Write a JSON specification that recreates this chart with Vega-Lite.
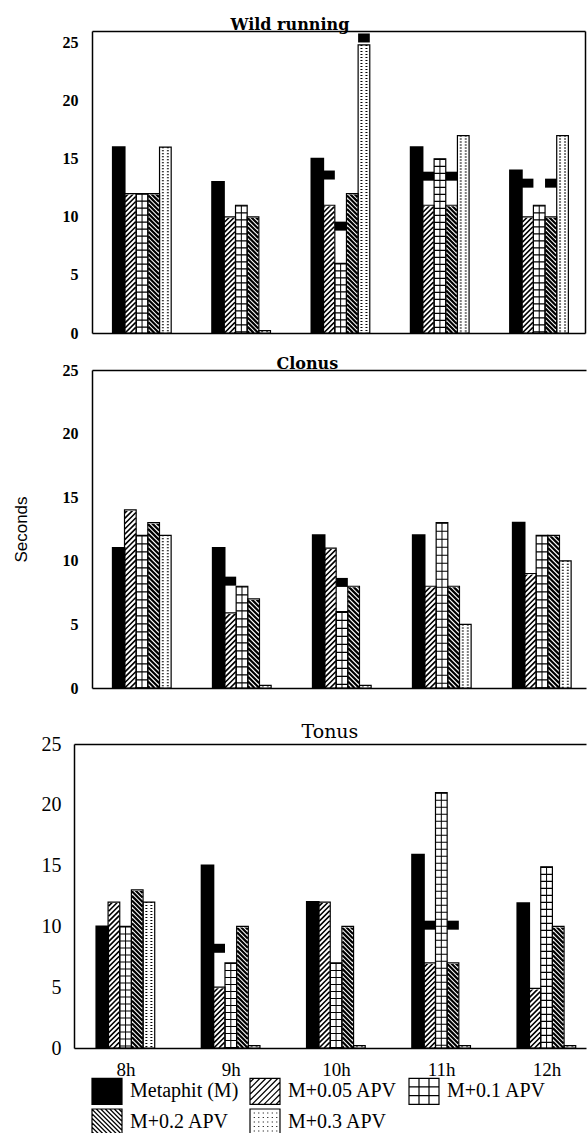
{
  "$schema": "https://vega.github.io/schema/vega-lite/v6.json",
  "usermeta": {"embedOptions": {"actions": false}},
  "background": "white",
  "padding": {"left": 12, "top": 16, "right": 0, "bottom": 0},
  "spacing": 14,
  "config": {
    "view": {"stroke": null},
    "axis": {"grid": false, "domainColor": "black", "domainWidth": 1.5, "labelColor": "black", "titleColor": "black", "zindex": 1, "labelFlush": false, "labelOverlap": false, "ticks": false}
  },
  "data": {"values": [
    {"panel":"Wild running","time":"8h","series":"Metaphit (M)","value":16},
    {"panel":"Wild running","time":"8h","series":"M+0.05 APV","value":12},
    {"panel":"Wild running","time":"8h","series":"M+0.1 APV","value":12},
    {"panel":"Wild running","time":"8h","series":"M+0.2 APV","value":12},
    {"panel":"Wild running","time":"8h","series":"M+0.3 APV","value":16},
    {"panel":"Wild running","time":"9h","series":"Metaphit (M)","value":13},
    {"panel":"Wild running","time":"9h","series":"M+0.05 APV","value":10},
    {"panel":"Wild running","time":"9h","series":"M+0.1 APV","value":11},
    {"panel":"Wild running","time":"9h","series":"M+0.2 APV","value":10},
    {"panel":"Wild running","time":"9h","series":"M+0.3 APV","value":0.2},
    {"panel":"Wild running","time":"10h","series":"Metaphit (M)","value":15},
    {"panel":"Wild running","time":"10h","series":"M+0.05 APV","value":11,"marker":13.6},
    {"panel":"Wild running","time":"10h","series":"M+0.1 APV","value":6,"marker":9.2},
    {"panel":"Wild running","time":"10h","series":"M+0.2 APV","value":12},
    {"panel":"Wild running","time":"10h","series":"M+0.3 APV","value":24.8,"marker":25.4},
    {"panel":"Wild running","time":"11h","series":"Metaphit (M)","value":16},
    {"panel":"Wild running","time":"11h","series":"M+0.05 APV","value":11,"marker":13.5},
    {"panel":"Wild running","time":"11h","series":"M+0.1 APV","value":15},
    {"panel":"Wild running","time":"11h","series":"M+0.2 APV","value":11,"marker":13.5},
    {"panel":"Wild running","time":"11h","series":"M+0.3 APV","value":17},
    {"panel":"Wild running","time":"12h","series":"Metaphit (M)","value":14},
    {"panel":"Wild running","time":"12h","series":"M+0.05 APV","value":10,"marker":12.9},
    {"panel":"Wild running","time":"12h","series":"M+0.1 APV","value":11},
    {"panel":"Wild running","time":"12h","series":"M+0.2 APV","value":10,"marker":12.9},
    {"panel":"Wild running","time":"12h","series":"M+0.3 APV","value":17},
    {"panel":"Clonus","time":"8h","series":"Metaphit (M)","value":11},
    {"panel":"Clonus","time":"8h","series":"M+0.05 APV","value":14},
    {"panel":"Clonus","time":"8h","series":"M+0.1 APV","value":12},
    {"panel":"Clonus","time":"8h","series":"M+0.2 APV","value":13},
    {"panel":"Clonus","time":"8h","series":"M+0.3 APV","value":12},
    {"panel":"Clonus","time":"9h","series":"Metaphit (M)","value":11},
    {"panel":"Clonus","time":"9h","series":"M+0.05 APV","value":5.9,"marker":8.4},
    {"panel":"Clonus","time":"9h","series":"M+0.1 APV","value":8},
    {"panel":"Clonus","time":"9h","series":"M+0.2 APV","value":7},
    {"panel":"Clonus","time":"9h","series":"M+0.3 APV","value":0.2},
    {"panel":"Clonus","time":"10h","series":"Metaphit (M)","value":12},
    {"panel":"Clonus","time":"10h","series":"M+0.05 APV","value":11},
    {"panel":"Clonus","time":"10h","series":"M+0.1 APV","value":6,"marker":8.3},
    {"panel":"Clonus","time":"10h","series":"M+0.2 APV","value":8},
    {"panel":"Clonus","time":"10h","series":"M+0.3 APV","value":0.2},
    {"panel":"Clonus","time":"11h","series":"Metaphit (M)","value":12},
    {"panel":"Clonus","time":"11h","series":"M+0.05 APV","value":8},
    {"panel":"Clonus","time":"11h","series":"M+0.1 APV","value":13},
    {"panel":"Clonus","time":"11h","series":"M+0.2 APV","value":8},
    {"panel":"Clonus","time":"11h","series":"M+0.3 APV","value":5},
    {"panel":"Clonus","time":"12h","series":"Metaphit (M)","value":13},
    {"panel":"Clonus","time":"12h","series":"M+0.05 APV","value":9},
    {"panel":"Clonus","time":"12h","series":"M+0.1 APV","value":12},
    {"panel":"Clonus","time":"12h","series":"M+0.2 APV","value":12},
    {"panel":"Clonus","time":"12h","series":"M+0.3 APV","value":10},
    {"panel":"Tonus","time":"8h","series":"Metaphit (M)","value":10},
    {"panel":"Tonus","time":"8h","series":"M+0.05 APV","value":12},
    {"panel":"Tonus","time":"8h","series":"M+0.1 APV","value":10},
    {"panel":"Tonus","time":"8h","series":"M+0.2 APV","value":13},
    {"panel":"Tonus","time":"8h","series":"M+0.3 APV","value":12},
    {"panel":"Tonus","time":"9h","series":"Metaphit (M)","value":15},
    {"panel":"Tonus","time":"9h","series":"M+0.05 APV","value":5,"marker":8.2},
    {"panel":"Tonus","time":"9h","series":"M+0.1 APV","value":7},
    {"panel":"Tonus","time":"9h","series":"M+0.2 APV","value":10},
    {"panel":"Tonus","time":"9h","series":"M+0.3 APV","value":0.2},
    {"panel":"Tonus","time":"10h","series":"Metaphit (M)","value":12},
    {"panel":"Tonus","time":"10h","series":"M+0.05 APV","value":12},
    {"panel":"Tonus","time":"10h","series":"M+0.1 APV","value":7},
    {"panel":"Tonus","time":"10h","series":"M+0.2 APV","value":10},
    {"panel":"Tonus","time":"10h","series":"M+0.3 APV","value":0.2},
    {"panel":"Tonus","time":"11h","series":"Metaphit (M)","value":15.9},
    {"panel":"Tonus","time":"11h","series":"M+0.05 APV","value":7,"marker":10.1},
    {"panel":"Tonus","time":"11h","series":"M+0.1 APV","value":21},
    {"panel":"Tonus","time":"11h","series":"M+0.2 APV","value":7,"marker":10.1},
    {"panel":"Tonus","time":"11h","series":"M+0.3 APV","value":0.2},
    {"panel":"Tonus","time":"12h","series":"Metaphit (M)","value":11.9},
    {"panel":"Tonus","time":"12h","series":"M+0.05 APV","value":4.9},
    {"panel":"Tonus","time":"12h","series":"M+0.1 APV","value":14.9},
    {"panel":"Tonus","time":"12h","series":"M+0.2 APV","value":10},
    {"panel":"Tonus","time":"12h","series":"M+0.3 APV","value":0.2}
  ]},
  "vconcat": [
    {
      "width": 493, "height": 302,
      "transform": [{"filter": "datum.panel == 'Wild running'"}],
      "encoding": {
        "x": {"field": "time", "type": "nominal", "sort": ["8h","9h","10h","11h","12h"], "scale": {"paddingInner": 0.413, "paddingOuter": 0.189, "align": 0.557}, "axis": null},
        "xOffset": {"field": "series", "type": "nominal", "sort": ["Metaphit (M)","M+0.05 APV","M+0.1 APV","M+0.2 APV","M+0.3 APV"]},
        "y": {"field": "value", "type": "quantitative", "scale": {"domain": [0, 26], "nice": false}, "axis": null}
      },
      "layer": [
        {"transform": [{"filter": "datum.series == 'M+0.05 APV'"}],
         "mark": {"type": "point", "filled": false, "stroke": "black", "strokeWidth": 1.6, "opacity": 1, "size": 4.0536,
           "shape": "M-0.3 150L5.3 144.4M4.7 150L5.3 149.4M-5.3 150l10.6-10.6m-10.6 5.6l10.6-10.6m-10.6 5.6l10.6-10.6m-10.6 5.6l10.6-10.6m-10.6 5.6l10.6-10.6m-10.6 5.6l10.6-10.6m-10.6 5.6l10.6-10.6m-10.6 5.6l10.6-10.6m-10.6 5.6l10.6-10.6m-10.6 5.6l10.6-10.6m-10.6 5.6l10.6-10.6m-10.6 5.6l10.6-10.6m-10.6 5.6l10.6-10.6m-10.6 5.6l10.6-10.6m-10.6 5.6l10.6-10.6m-10.6 5.6l10.6-10.6m-10.6 5.6l10.6-10.6m-10.6 5.6l10.6-10.6m-10.6 5.6l10.6-10.6m-10.6 5.6l10.6-10.6m-10.6 5.6l10.6-10.6m-10.6 5.6l10.6-10.6m-10.6 5.6l10.6-10.6m-10.6 5.6l10.6-10.6m-10.6 5.6l10.6-10.6m-10.6 5.6l10.6-10.6m-10.6 5.6l10.6-10.6m-10.6 5.6l10.6-10.6m-10.6 5.6l10.6-10.6m-10.6 5.6l10.6-10.6m-10.6 5.6l10.6-10.6m-10.6 5.6l10.6-10.6m-10.6 5.6l10.6-10.6m-10.6 5.6l10.6-10.6m-10.6 5.6l10.6-10.6m-10.6 5.6"},
         "encoding": {"y": {"datum": 13, "type": "quantitative", "axis": null}}},
        {"transform": [{"filter": "datum.series == 'M+0.2 APV'"}],
         "mark": {"type": "point", "filled": false, "stroke": "black", "strokeWidth": 2.2, "opacity": 1, "size": 4.0536,
           "shape": "M0.8 150L-5.3 143.9M-3.7 150L-5.3 148.4M5.3 150l-10.6-10.6m10.6 6.1l-10.6-10.6m10.6 6.1l-10.6-10.6m10.6 6.1l-10.6-10.6m10.6 6.1l-10.6-10.6m10.6 6.1l-10.6-10.6m10.6 6.1l-10.6-10.6m10.6 6.1l-10.6-10.6m10.6 6.1l-10.6-10.6m10.6 6.1l-10.6-10.6m10.6 6.1l-10.6-10.6m10.6 6.1l-10.6-10.6m10.6 6.1l-10.6-10.6m10.6 6.1l-10.6-10.6m10.6 6.1l-10.6-10.6m10.6 6.1l-10.6-10.6m10.6 6.1l-10.6-10.6m10.6 6.1l-10.6-10.6m10.6 6.1l-10.6-10.6m10.6 6.1l-10.6-10.6m10.6 6.1l-10.6-10.6m10.6 6.1l-10.6-10.6m10.6 6.1l-10.6-10.6m10.6 6.1l-10.6-10.6m10.6 6.1l-10.6-10.6m10.6 6.1l-10.6-10.6m10.6 6.1l-10.6-10.6m10.6 6.1l-10.6-10.6m10.6 6.1l-10.6-10.6m10.6 6.1l-10.6-10.6m10.6 6.1l-10.6-10.6m10.6 6.1l-10.6-10.6m10.6 6.1l-10.6-10.6m10.6 6.1l-10.6-10.6m10.6 6.1l-10.6-10.6m10.6 6.1l-10.6-10.6m10.6 6.1l-10.6-10.6m10.6 6.1l-10.6-10.6m10.6 6.1l-10.6-10.6m10.6 6.1"},
         "encoding": {"y": {"datum": 13, "type": "quantitative", "axis": null}}},
        {"transform": [{"filter": "datum.series == 'M+0.05 APV' || datum.series == 'M+0.2 APV'"}],
         "mark": {"type": "bar", "fill": "white", "stroke": "white", "strokeWidth": 2},
         "encoding": {"y2": {"datum": 18}}},
        {"transform": [{"filter": "datum.series == 'M+0.1 APV'"}],
         "mark": {"type": "rule", "stroke": "black", "strokeWidth": 11.7, "strokeDash": [1.2, 5.8]},
         "encoding": {"y2": {"datum": 0}}},
        {"transform": [{"filter": "datum.series == 'M+0.1 APV'"}],
         "mark": {"type": "rule", "stroke": "black", "strokeWidth": 1},
         "encoding": {"y2": {"datum": 0}}},
        {"transform": [{"filter": "datum.series == 'M+0.3 APV'"}],
         "mark": {"type": "rule", "stroke": "black", "strokeWidth": 7, "strokeDash": [1, 2]},
         "encoding": {"y2": {"datum": 0}}},
        {"transform": [{"filter": "datum.series == 'M+0.3 APV'"}],
         "mark": {"type": "rule", "stroke": "white", "strokeWidth": 3},
         "encoding": {"y2": {"datum": 0}}},
        {"transform": [{"filter": "datum.series != 'Metaphit (M)'"}],
         "mark": {"type": "bar", "fillOpacity": 0, "stroke": "black", "strokeWidth": 1.2},
         "encoding": {
           "x": {"field": "time", "type": "nominal", "sort": ["8h","9h","10h","11h","12h"], "axis": {"orient": "bottom", "labels": false, "ticks": false, "title": null}},
           "y": {"field": "value", "type": "quantitative", "axis": {"orient": "left", "values": [0,5,10,15,20,25], "labelFont": "Liberation Serif", "labelFontSize": 16, "labelFontWeight": "bold", "labelPadding": 14, "title": null}}
         }},
        {"transform": [{"filter": "datum.series == 'Metaphit (M)'"}],
         "mark": {"type": "bar", "fill": "black", "stroke": "black", "strokeWidth": 2},
         "encoding": {
           "x": {"field": "time", "type": "nominal", "sort": ["8h","9h","10h","11h","12h"], "axis": {"orient": "top", "labels": false, "ticks": false, "title": "Wild running", "titleFont": "DejaVu Serif", "titleFontSize": 16, "titleFontWeight": "bold", "titleColor": "black", "titleAnchor": "start", "titleAlign": "left", "titleX": 138, "titleBaseline": "alphabetic", "titlePadding": 1.5}},
           "y": {"field": "value", "type": "quantitative", "axis": {"orient": "right", "labels": false, "ticks": false, "title": null}}
         }},
        {"transform": [{"filter": "datum.marker != null"}],
         "mark": {"type": "tick", "orient": "horizontal", "color": "black", "thickness": 9, "size": 11.7, "opacity": 1},
         "encoding": {"y": {"field": "marker", "type": "quantitative", "axis": null}}}
      ],
      "resolve": {"axis": {"x": "independent", "y": "independent"}}
    },
    {
      "width": 494, "height": 318,
      "transform": [{"filter": "datum.panel == 'Clonus'"}],
      "encoding": {
        "x": {"field": "time", "type": "nominal", "sort": ["8h","9h","10h","11h","12h"], "scale": {"paddingInner": 0.417, "paddingOuter": 0.1785, "align": 0.584}, "axis": null},
        "xOffset": {"field": "series", "type": "nominal", "sort": ["Metaphit (M)","M+0.05 APV","M+0.1 APV","M+0.2 APV","M+0.3 APV"]},
        "y": {"field": "value", "type": "quantitative", "scale": {"domain": [0, 25], "nice": false}, "axis": null}
      },
      "layer": [
        {"transform": [{"filter": "datum.series == 'M+0.05 APV'"}],
         "mark": {"type": "point", "filled": false, "stroke": "black", "strokeWidth": 1.6, "opacity": 1, "size": 4.4944,
           "shape": "M-0.3 150L5.3 144.4M4.7 150L5.3 149.4M-5.3 150l10.6-10.6m-10.6 5.6l10.6-10.6m-10.6 5.6l10.6-10.6m-10.6 5.6l10.6-10.6m-10.6 5.6l10.6-10.6m-10.6 5.6l10.6-10.6m-10.6 5.6l10.6-10.6m-10.6 5.6l10.6-10.6m-10.6 5.6l10.6-10.6m-10.6 5.6l10.6-10.6m-10.6 5.6l10.6-10.6m-10.6 5.6l10.6-10.6m-10.6 5.6l10.6-10.6m-10.6 5.6l10.6-10.6m-10.6 5.6l10.6-10.6m-10.6 5.6l10.6-10.6m-10.6 5.6l10.6-10.6m-10.6 5.6l10.6-10.6m-10.6 5.6l10.6-10.6m-10.6 5.6l10.6-10.6m-10.6 5.6l10.6-10.6m-10.6 5.6l10.6-10.6m-10.6 5.6l10.6-10.6m-10.6 5.6l10.6-10.6m-10.6 5.6l10.6-10.6m-10.6 5.6l10.6-10.6m-10.6 5.6l10.6-10.6m-10.6 5.6l10.6-10.6m-10.6 5.6l10.6-10.6m-10.6 5.6l10.6-10.6m-10.6 5.6l10.6-10.6m-10.6 5.6l10.6-10.6m-10.6 5.6l10.6-10.6m-10.6 5.6l10.6-10.6m-10.6 5.6l10.6-10.6m-10.6 5.6l10.6-10.6m-10.6 5.6"},
         "encoding": {"y": {"datum": 12.5, "type": "quantitative", "axis": null}}},
        {"transform": [{"filter": "datum.series == 'M+0.2 APV'"}],
         "mark": {"type": "point", "filled": false, "stroke": "black", "strokeWidth": 2.2, "opacity": 1, "size": 4.4944,
           "shape": "M0.8 150L-5.3 143.9M-3.7 150L-5.3 148.4M5.3 150l-10.6-10.6m10.6 6.1l-10.6-10.6m10.6 6.1l-10.6-10.6m10.6 6.1l-10.6-10.6m10.6 6.1l-10.6-10.6m10.6 6.1l-10.6-10.6m10.6 6.1l-10.6-10.6m10.6 6.1l-10.6-10.6m10.6 6.1l-10.6-10.6m10.6 6.1l-10.6-10.6m10.6 6.1l-10.6-10.6m10.6 6.1l-10.6-10.6m10.6 6.1l-10.6-10.6m10.6 6.1l-10.6-10.6m10.6 6.1l-10.6-10.6m10.6 6.1l-10.6-10.6m10.6 6.1l-10.6-10.6m10.6 6.1l-10.6-10.6m10.6 6.1l-10.6-10.6m10.6 6.1l-10.6-10.6m10.6 6.1l-10.6-10.6m10.6 6.1l-10.6-10.6m10.6 6.1l-10.6-10.6m10.6 6.1l-10.6-10.6m10.6 6.1l-10.6-10.6m10.6 6.1l-10.6-10.6m10.6 6.1l-10.6-10.6m10.6 6.1l-10.6-10.6m10.6 6.1l-10.6-10.6m10.6 6.1l-10.6-10.6m10.6 6.1l-10.6-10.6m10.6 6.1l-10.6-10.6m10.6 6.1l-10.6-10.6m10.6 6.1l-10.6-10.6m10.6 6.1l-10.6-10.6m10.6 6.1l-10.6-10.6m10.6 6.1l-10.6-10.6m10.6 6.1l-10.6-10.6m10.6 6.1l-10.6-10.6m10.6 6.1"},
         "encoding": {"y": {"datum": 12.5, "type": "quantitative", "axis": null}}},
        {"transform": [{"filter": "datum.series == 'M+0.05 APV' || datum.series == 'M+0.2 APV'"}],
         "mark": {"type": "bar", "fill": "white", "stroke": "white", "strokeWidth": 2},
         "encoding": {"y2": {"datum": 16.5}}},
        {"transform": [{"filter": "datum.series == 'M+0.1 APV'"}],
         "mark": {"type": "rule", "stroke": "black", "strokeWidth": 11.7, "strokeDash": [1.2, 6.8]},
         "encoding": {"y2": {"datum": 0}}},
        {"transform": [{"filter": "datum.series == 'M+0.1 APV'"}],
         "mark": {"type": "rule", "stroke": "black", "strokeWidth": 1},
         "encoding": {"y2": {"datum": 0}}},
        {"transform": [{"filter": "datum.series == 'M+0.3 APV'"}],
         "mark": {"type": "rule", "stroke": "black", "strokeWidth": 7, "strokeDash": [1, 2]},
         "encoding": {"y2": {"datum": 0}}},
        {"transform": [{"filter": "datum.series == 'M+0.3 APV'"}],
         "mark": {"type": "rule", "stroke": "white", "strokeWidth": 3},
         "encoding": {"y2": {"datum": 0}}},
        {"transform": [{"filter": "datum.series != 'Metaphit (M)'"}],
         "mark": {"type": "bar", "fillOpacity": 0, "stroke": "black", "strokeWidth": 1.2},
         "encoding": {
           "x": {"field": "time", "type": "nominal", "sort": ["8h","9h","10h","11h","12h"], "axis": {"orient": "bottom", "labels": false, "ticks": true, "tickSize": 20, "tickOpacity": 0, "title": null}},
           "y": {"field": "value", "type": "quantitative", "axis": {"orient": "left", "values": [0,5,10,15,20,25], "labelFont": "Liberation Serif", "labelFontSize": 16, "labelFontWeight": "bold", "labelPadding": 14, "title": "Seconds", "titleFont": "Liberation Sans", "titleFontSize": 17, "titleFontWeight": "normal", "titlePadding": 32}}
         }},
        {"transform": [{"filter": "datum.series == 'Metaphit (M)'"}],
         "mark": {"type": "bar", "fill": "black", "stroke": "black", "strokeWidth": 2},
         "encoding": {
           "x": {"field": "time", "type": "nominal", "sort": ["8h","9h","10h","11h","12h"], "axis": {"orient": "top", "labels": false, "ticks": false, "title": "Clonus", "titleFont": "DejaVu Serif", "titleFontSize": 16, "titleFontWeight": "bold", "titleColor": "black", "titleAnchor": "start", "titleAlign": "left", "titleX": 184, "titleBaseline": "alphabetic", "titlePadding": 1.5}}
         }},
        {"transform": [{"filter": "datum.marker != null"}],
         "mark": {"type": "tick", "orient": "horizontal", "color": "black", "thickness": 9, "size": 11.7, "opacity": 1},
         "encoding": {"y": {"field": "marker", "type": "quantitative", "axis": null}}}
      ],
      "resolve": {"axis": {"x": "independent", "y": "independent"}}
    },
    {
      "width": 494, "height": 304,
      "transform": [{"filter": "datum.panel == 'Tonus'"}],
      "encoding": {
        "x": {"field": "time", "type": "nominal", "sort": ["8h","9h","10h","11h","12h"], "scale": {"range": [-18, 494], "paddingInner": 0.4394, "paddingOuter": 0.152, "align": 0.701}, "axis": null},
        "xOffset": {"field": "series", "type": "nominal", "sort": ["Metaphit (M)","M+0.05 APV","M+0.1 APV","M+0.2 APV","M+0.3 APV"]},
        "y": {"field": "value", "type": "quantitative", "scale": {"domain": [0, 25], "nice": false}, "axis": null}
      },
      "layer": [
        {"transform": [{"filter": "datum.series == 'M+0.05 APV'"}],
         "mark": {"type": "point", "filled": false, "stroke": "black", "strokeWidth": 1.6, "opacity": 1, "size": 4.1075,
           "shape": "M-0.3 150L5.3 144.4M4.7 150L5.3 149.4M-5.3 150l10.6-10.6m-10.6 5.6l10.6-10.6m-10.6 5.6l10.6-10.6m-10.6 5.6l10.6-10.6m-10.6 5.6l10.6-10.6m-10.6 5.6l10.6-10.6m-10.6 5.6l10.6-10.6m-10.6 5.6l10.6-10.6m-10.6 5.6l10.6-10.6m-10.6 5.6l10.6-10.6m-10.6 5.6l10.6-10.6m-10.6 5.6l10.6-10.6m-10.6 5.6l10.6-10.6m-10.6 5.6l10.6-10.6m-10.6 5.6l10.6-10.6m-10.6 5.6l10.6-10.6m-10.6 5.6l10.6-10.6m-10.6 5.6l10.6-10.6m-10.6 5.6l10.6-10.6m-10.6 5.6l10.6-10.6m-10.6 5.6l10.6-10.6m-10.6 5.6l10.6-10.6m-10.6 5.6l10.6-10.6m-10.6 5.6l10.6-10.6m-10.6 5.6l10.6-10.6m-10.6 5.6l10.6-10.6m-10.6 5.6l10.6-10.6m-10.6 5.6l10.6-10.6m-10.6 5.6l10.6-10.6m-10.6 5.6l10.6-10.6m-10.6 5.6l10.6-10.6m-10.6 5.6l10.6-10.6m-10.6 5.6l10.6-10.6m-10.6 5.6l10.6-10.6m-10.6 5.6l10.6-10.6m-10.6 5.6l10.6-10.6m-10.6 5.6l10.6-10.6m-10.6 5.6"},
         "encoding": {"y": {"datum": 12.5, "type": "quantitative", "axis": null}}},
        {"transform": [{"filter": "datum.series == 'M+0.2 APV'"}],
         "mark": {"type": "point", "filled": false, "stroke": "black", "strokeWidth": 2.2, "opacity": 1, "size": 4.1075,
           "shape": "M0.8 150L-5.3 143.9M-3.7 150L-5.3 148.4M5.3 150l-10.6-10.6m10.6 6.1l-10.6-10.6m10.6 6.1l-10.6-10.6m10.6 6.1l-10.6-10.6m10.6 6.1l-10.6-10.6m10.6 6.1l-10.6-10.6m10.6 6.1l-10.6-10.6m10.6 6.1l-10.6-10.6m10.6 6.1l-10.6-10.6m10.6 6.1l-10.6-10.6m10.6 6.1l-10.6-10.6m10.6 6.1l-10.6-10.6m10.6 6.1l-10.6-10.6m10.6 6.1l-10.6-10.6m10.6 6.1l-10.6-10.6m10.6 6.1l-10.6-10.6m10.6 6.1l-10.6-10.6m10.6 6.1l-10.6-10.6m10.6 6.1l-10.6-10.6m10.6 6.1l-10.6-10.6m10.6 6.1l-10.6-10.6m10.6 6.1l-10.6-10.6m10.6 6.1l-10.6-10.6m10.6 6.1l-10.6-10.6m10.6 6.1l-10.6-10.6m10.6 6.1l-10.6-10.6m10.6 6.1l-10.6-10.6m10.6 6.1l-10.6-10.6m10.6 6.1l-10.6-10.6m10.6 6.1l-10.6-10.6m10.6 6.1l-10.6-10.6m10.6 6.1l-10.6-10.6m10.6 6.1l-10.6-10.6m10.6 6.1l-10.6-10.6m10.6 6.1l-10.6-10.6m10.6 6.1l-10.6-10.6m10.6 6.1l-10.6-10.6m10.6 6.1l-10.6-10.6m10.6 6.1l-10.6-10.6m10.6 6.1"},
         "encoding": {"y": {"datum": 12.5, "type": "quantitative", "axis": null}}},
        {"transform": [{"filter": "datum.series == 'M+0.05 APV' || datum.series == 'M+0.2 APV'"}],
         "mark": {"type": "bar", "fill": "white", "stroke": "white", "strokeWidth": 2},
         "encoding": {"y2": {"datum": 16.5}}},
        {"transform": [{"filter": "datum.series == 'M+0.1 APV'"}],
         "mark": {"type": "rule", "stroke": "black", "strokeWidth": 11.7, "strokeDash": [1.2, 5.8]},
         "encoding": {"y2": {"datum": 0}}},
        {"transform": [{"filter": "datum.series == 'M+0.1 APV'"}],
         "mark": {"type": "rule", "stroke": "black", "strokeWidth": 1},
         "encoding": {"y2": {"datum": 0}}},
        {"transform": [{"filter": "datum.series == 'M+0.3 APV'"}],
         "mark": {"type": "rule", "stroke": "black", "strokeWidth": 7, "strokeDash": [1, 2]},
         "encoding": {"y2": {"datum": 0}}},
        {"transform": [{"filter": "datum.series == 'M+0.3 APV'"}],
         "mark": {"type": "rule", "stroke": "white", "strokeWidth": 3},
         "encoding": {"y2": {"datum": 0}}},
        {"transform": [{"filter": "datum.series != 'Metaphit (M)'"}],
         "mark": {"type": "bar", "fillOpacity": 0, "stroke": "black", "strokeWidth": 1.2},
         "encoding": {
           "x": {"field": "time", "type": "nominal", "sort": ["8h","9h","10h","11h","12h"], "axis": {"orient": "bottom", "labels": true, "ticks": false, "labelFont": "Liberation Serif", "labelFontSize": 19, "labelPadding": 12.5, "labelAngle": 0, "title": null}},
           "y": {"field": "value", "type": "quantitative", "axis": {"orient": "left", "offset": 18, "values": [0,5,10,15,20,25], "labelFont": "Liberation Serif", "labelFontSize": 20, "labelPadding": 13, "title": null}}
         }},
        {"transform": [{"filter": "datum.series == 'Metaphit (M)'"}],
         "mark": {"type": "bar", "fill": "black", "stroke": "black", "strokeWidth": 2},
         "encoding": {
           "x": {"field": "time", "type": "nominal", "sort": ["8h","9h","10h","11h","12h"], "axis": {"orient": "top", "labels": false, "ticks": false, "title": "Tonus", "titleFont": "DejaVu Serif", "titleFontSize": 19, "titleFontWeight": "normal", "titleColor": "black", "titleAnchor": "start", "titleAlign": "left", "titleX": 209, "titleBaseline": "alphabetic", "titlePadding": 7}}
         }},
        {"transform": [{"filter": "datum.marker != null"}],
         "mark": {"type": "tick", "orient": "horizontal", "color": "black", "thickness": 9, "size": 11.7, "opacity": 1},
         "encoding": {"y": {"field": "marker", "type": "quantitative", "axis": null}}},
        {"transform": [{"filter": "false"}],
         "mark": {"type": "point", "filled": true, "stroke": "black", "strokeWidth": 1.2, "opacity": 1},
         "encoding": {
           "shape": {"field": "series", "type": "nominal",
             "scale": {"domain": ["Metaphit (M)","M+0.05 APV","M+0.1 APV","M+0.2 APV","M+0.3 APV"],
               "range": [
                 "M-1.071 -0.929H1.071V0.929H-1.071Z",
                 "M-1.071 -0.929H1.071V0.929H-1.071ZM-1.071 -0.643L-0.785 -0.929M-1.071 -0.214L-0.357 -0.929M-1.071 0.214L0.072 -0.929M-1.071 0.643L0.5 -0.929M-0.929 0.929L0.929 -0.929M-0.5 0.929L1.071 -0.643M-0.072 0.929L1.071 -0.214M0.357 0.929L1.071 0.214M0.785 0.929L1.071 0.643",
                 "M-1.071 -0.929H1.071V0.929H-1.071ZM-0.357 -0.929V0.929M0.357 -0.929V0.929M-1.071 -0.31H1.071M-1.071 0.31H1.071",
                 "M-1.071 -0.929H1.071V0.929H-1.071ZM-1.071 0.696L-0.839 0.929M-1.071 0.375L-0.517 0.929M-1.071 0.054L-0.196 0.929M-1.071 -0.268L0.125 0.929M-1.071 -0.589L0.447 0.929M-1.071 -0.911L0.768 0.929M-0.768 -0.929L1.071 0.911M-0.447 -0.929L1.071 0.589M-0.125 -0.929L1.071 0.268M0.196 -0.929L1.071 -0.054M0.517 -0.929L1.071 -0.375M0.839 -0.929L1.071 -0.696",
                 "M-1.071 -0.929H1.071V0.929H-1.071ZM-0.804 -0.643h0.075M-0.482 -0.643h0.075M-0.161 -0.643h0.075M0.161 -0.643h0.075M0.482 -0.643h0.075M0.804 -0.643h0.075M-0.804 -0.321h0.075M-0.482 -0.321h0.075M-0.161 -0.321h0.075M0.161 -0.321h0.075M0.482 -0.321h0.075M0.804 -0.321h0.075M-0.804 0h0.075M-0.482 0h0.075M-0.161 0h0.075M0.161 0h0.075M0.482 0h0.075M0.804 0h0.075M-0.804 0.321h0.075M-0.482 0.321h0.075M-0.161 0.321h0.075M0.161 0.321h0.075M0.482 0.321h0.075M0.804 0.321h0.075M-0.804 0.643h0.075M-0.482 0.643h0.075M-0.161 0.643h0.075M0.161 0.643h0.075M0.482 0.643h0.075M0.804 0.643h0.075"
               ]},
             "legend": {"orient": "bottom", "direction": "horizontal", "columns": 3, "title": null, "symbolSize": 784, "symbolStrokeColor": "black", "symbolStrokeWidth": 1.2, "symbolOpacity": 1, "labelFont": "Liberation Serif", "labelFontSize": 20, "labelColor": "black", "labelOffset": 8, "columnPadding": 8, "rowPadding": -2, "offset": -4, "padding": 0, "labelLimit": 300,
               "encode": {"symbols": {"update": {"stroke": {"value": "black"}, "strokeWidth": {"value": 1.2}}}}}},
           "fill": {"field": "series", "type": "nominal",
             "scale": {"domain": ["Metaphit (M)","M+0.05 APV","M+0.1 APV","M+0.2 APV","M+0.3 APV"], "range": ["black","white","white","white","white"]},
             "legend": {"orient": "bottom", "direction": "horizontal", "columns": 3, "title": null, "symbolSize": 784, "symbolStrokeColor": "black", "symbolStrokeWidth": 1.2, "symbolOpacity": 1, "labelFont": "Liberation Serif", "labelFontSize": 20, "labelColor": "black", "labelOffset": 8, "columnPadding": 8, "rowPadding": -2, "offset": -4, "padding": 0, "labelLimit": 300,
               "encode": {"symbols": {"update": {"stroke": {"value": "black"}, "strokeWidth": {"value": 1.2}}}}}}
         }}
      ],
      "resolve": {"axis": {"x": "independent", "y": "independent"}}
    }
  ]
}
